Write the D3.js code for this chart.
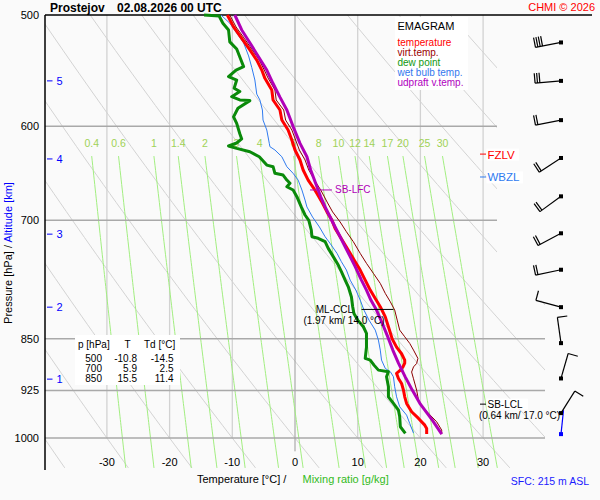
<!DOCTYPE html>
<html lang="en">
<head>
    <meta charset="UTF-8">
    <title>Emagram Prostejov</title>
    <style>
        body { margin: 0; background: #fafafa; }
        svg { display: block; font-family: "Liberation Sans", Arial, sans-serif; }
    </style>
    <script src="https://d3js.org/d3.v7.min.js"></script>
</head>
<body>
    <div id="svg"></div>
    <script>
        const pressureTicks = [500, 600, 700, 850, 925, 1000]
        const tempTicks = [-30, -20, -10, 0, 10, 20, 30]
        const mixingRatios = [0.4, 0.6, 1, 1.4, 2, 3, 4, 6, 8, 10, 12, 14, 17, 20, 25, 30]
        const altitudeKm = [1, 2, 3, 4, 5]
        const altitudePressure = [908, 807, 716, 633, 557]

        // [pressure hPa, temperature °C]
        const temperature = [[500,-10.8],[509.8,-9.8],[519.6,-8.5],[529.5,-7.2],[538.3,-6.1],[547.2,-5.3],[554.7,-4.8],[565.4,-3.7],[574.7,-3.5],[584.2,-2.4],[593.9,-2.1],[603.7,-1.1],[613.7,-0.5],[623.8,0.0],[634.1,0.8],[644.6,1.3],[655.3,2.1],[664.2,3.0],[673.4,3.8],[680.7,4.4],[690.4,5.1],[700,5.9],[709.3,6.4],[719,7.2],[728.9,8.0],[738.9,8.8],[749.1,9.6],[759.4,10.4],[772,11.2],[784.7,12.0],[795.5,12.8],[806.5,13.6],[819.9,14.4],[833.3,14.9],[850,15.5],[861.6,16.2],[871,17.0],[880.1,17.5],[884.5,17.5],[890.3,17.2],[894.7,16.8],[899.5,16.2],[907,16.5],[914.5,17.0],[924.5,17.3],[934.7,17.5],[944.9,17.8],[957.9,18.6],[968.4,19.7],[979.1,20.7],[984.4,21.0],[993.6,21.0]]
        const virtualTemp = [[500,-10.4],[509.9,-9.4],[519.4,-8.1],[529.5,-6.8],[538.3,-5.7],[547.2,-4.9],[554.4,-4.3],[565.4,-3.2],[574.7,-3.0],[584.2,-1.8],[593.9,-1.5],[603.7,-0.5],[613.7,0.1],[623.8,0.7],[634.1,1.6],[644.6,2.2],[655.3,3.1],[666,4.1],[680.3,5.2],[690.4,6.0],[701.9,7.2],[713.2,8.2],[724.9,9.3],[738.9,10.4],[751.1,11.4],[763.5,12.5],[776.2,13.6],[789,14.4],[799.9,15.2],[810.9,15.9],[824.3,16.3],[837.9,16.7],[847.1,17.5],[856.4,18.3],[865.8,18.9],[877.7,19.6],[885,19.4],[890,18.9],[897.5,18.6],[907.5,18.9],[924.5,19.4],[939.8,19.7],[950.1,20.3],[960.5,21.3],[973.8,22.6],[987.1,23.4],[993.6,23.4]]
        const dewPoint = [[500,-14.5],[500.8,-12.1],[506.8,-11.5],[512.4,-10.6],[522.5,-10.4],[528.7,-9.3],[535.6,-8.8],[544.1,-8.2],[547.2,-9.4],[553.1,-10.6],[556.2,-9.3],[563.7,-9.7],[566.8,-8.8],[571.6,-10.1],[574.7,-8.8],[575.3,-7.2],[582.6,-9.1],[590.8,-9.8],[597.2,-9.3],[607.4,-8.8],[612.6,-8.5],[616.7,-9.3],[619.7,-10.6],[622.1,-9.3],[625.6,-7.2],[630.7,-5.7],[639.4,-4.5],[641.1,-3.5],[648.1,-3.2],[649.9,-1.9],[655.3,-1.3],[658.8,-0.8],[662.5,-1.3],[666,-0.3],[673.4,0.3],[684.8,1.0],[693.9,1.6],[700,2.2],[711.2,2.6],[719,2.7],[720.9,3.7],[724.9,4.8],[732.9,5.3],[742.9,6.1],[753.2,6.9],[761.4,7.4],[772,8.0],[780.5,8.5],[793.6,9.0],[806.5,9.2],[815.3,9.4],[824.3,10.0],[833.3,10.9],[842.3,11.4],[861.6,11.4],[877.7,11.2],[880.1,12.0],[887.4,12.6],[894.7,13.3],[897,14.9],[904.5,14.6],[919.5,14.9],[934.7,14.9],[944.9,15.7],[955.3,16.5],[965.8,16.7],[981.7,16.8],[992.4,17.6]]
        const wetBulb = [[500,-11.8],[506.8,-10.4],[515,-9.3],[523.3,-8.2],[534.7,-7.4],[544.8,-6.9],[556.2,-6.4],[569.2,-6.1],[574.7,-5.6],[584.2,-5.2],[593.9,-5.1],[603.7,-4.5],[617,-4.1],[620.4,-4.0],[623.8,-3.2],[630.7,-2.1],[641.1,-1.3],[648.1,-0.3],[655.3,0.5],[666,1.1],[677.1,1.6],[684.8,1.9],[696.2,2.8],[707.7,3.9],[719,4.8],[727,5.6],[738.9,6.7],[749.1,7.4],[759.4,8.2],[772,8.8],[784.7,9.7],[797.7,10.4],[810.9,11.0],[824.3,11.8],[837.9,12.8],[851.7,13.3],[865.8,13.6],[880.1,13.8],[892.2,14.4],[897,15.2],[904.5,15.7],[919.5,15.9],[934.7,16.2],[950.1,16.7],[963.2,17.8],[976.4,18.3],[992,18.9]]
        const updraftVirtTemp = [[500,-9.6],[512.4,-8.5],[523.3,-7.2],[534.7,-5.9],[547.2,-4.5],[559.4,-3.5],[572,-2.4],[584.2,-1.3],[600.3,-0.3],[617,0.8],[630.7,1.9],[644.6,2.5],[662.5,3.5],[673.5,4.1],[684.8,4.8],[696.2,5.6],[707.7,6.4],[719,7.2],[730.9,8.0],[742.9,8.8],[755.2,9.6],[772,10.6],[784.7,11.4],[797.7,12.1],[810.9,13.0],[828.2,13.9],[847.3,14.8],[865.8,15.6],[884.5,16.5],[905,17.6],[924.5,18.7],[946.1,20.0],[971.1,21.9],[993.6,23.4]]

        const windPressure = [960, 907, 856, 807, 759, 715, 673, 632, 594, 557, 523]
        const windDir = [32, 16, 352, 285, 258, 242, 234, 237, 259, 265, 259]
        const windSpeed = [10, 10, 10, 10, 20, 20, 20, 20, 20, 30, 40]
        const sfcPressure = 993.6
        const sfcWindDir = 6

        const tableLevels = [500, 700, 850]
        const tableT = [-10.8, 5.9, 15.5]
        const tableTd = [-14.5, 2.5, 11.4]

        // ---- layout ----
        const boxWidth = 600, boxHeight = 500
        const svg = d3.select('#svg').append('svg').attr('width', boxWidth).attr('height', boxHeight)

        const xScale = d3.scaleLinear().domain([-40, 40]).range([44.2, 545.8])
        const yScale = d3.scaleLog().domain([500, 1000]).range([15, 438.03])
        const left = 45, rightUpper = 497, rightLower = 545, bottom = 468

        const defs = svg.append('defs')
        const clip = defs.append('clipPath').attr('id', 'plot')
        clip.append('rect').attr('x', left).attr('y', 15).attr('width', rightUpper - left).attr('height', bottom - 15)
        clip.append('rect').attr('x', rightUpper - 1).attr('y', 300).attr('width', rightLower - rightUpper + 1).attr('height', bottom - 300)

        const plot = svg.append('g').attr('clip-path', 'url(#plot)')

        // dry adiabats
        const adiabatP = d3.range(500, 1061, 10)
        const thetas = d3.range(203.15, 453.2, 10)
        const line = d3.line().x(d => xScale(d[1])).y(d => yScale(d[0]))
        plot.selectAll('.dry').data(thetas).enter().append('path')
            .attr('class', 'dry')
            .attr('d', th => line(adiabatP.map(p => [p, th * Math.pow(p / 1000, 0.2857) - 273.15])))
            .attr('fill', 'none').attr('stroke', '#d3d3d3').attr('stroke-width', 1)

        // isotherms
        plot.selectAll('.iso').data(tempTicks).enter().append('line')
            .attr('x1', d => xScale(d)).attr('x2', d => xScale(d))
            .attr('y1', yScale(500)).attr('y2', d => d === 0 ? yScale(1022) : yScale(1000))
            .attr('stroke', d => d === 0 ? '#9a9a9a' : '#d2d2d2')
            .attr('stroke-width', d => d === 0 ? 1 : 1.3)

        // mixing ratio lines
        const dewFromW = (w, p) => {
            const e = w * p / (622 + w)
            const l = Math.log(e / 6.112)
            return 243.5 * l / (17.67 - l)
        }
        const mixP = d3.range(630, 1056, 5)
        plot.selectAll('.mix').data(mixingRatios).enter().append('path')
            .attr('d', w => line(mixP.map(p => [p, dewFromW(w, p)])))
            .attr('fill', 'none').attr('stroke', '#a2ee80').attr('stroke-width', 1)
        svg.selectAll('.mixLabel').data(mixingRatios).enter().append('text')
            .attr('x', w => xScale(dewFromW(w, 630)))
            .attr('y', 147)
            .attr('text-anchor', 'middle')
            .attr('font-size', 10.5)
            .attr('fill', '#9fd256')
            .text(d => d)

        // isobars
        svg.selectAll('.isobar').data(pressureTicks.filter(p => p > 500)).enter().append('line')
            .attr('x1', left).attr('x2', p => p >= 850 ? rightLower : rightUpper)
            .attr('y1', p => yScale(p)).attr('y2', p => yScale(p))
            .attr('stroke', '#a9a9a9').attr('stroke-width', 1.5)

        // frame
        svg.append('line').attr('x1', left).attr('x2', 592).attr('y1', yScale(500)).attr('y2', yScale(500)).attr('stroke', '#000').attr('stroke-width', 1.5)
        svg.append('line').attr('x1', left).attr('x2', left).attr('y1', yScale(500)).attr('y2', 470).attr('stroke', '#000').attr('stroke-width', 1.5)

        // pressure labels
        svg.selectAll('.pLabel').data(pressureTicks).enter().append('text')
            .attr('x', 39).attr('y', p => yScale(p) + 4)
            .attr('text-anchor', 'end').attr('font-size', 11).attr('fill', '#000')
            .text(d => d)

        // altitude ticks
        const alt = svg.append('g')
        alt.selectAll('line').data(altitudePressure).enter().append('line')
            .attr('x1', 47).attr('x2', 52.5).attr('y1', p => yScale(p)).attr('y2', p => yScale(p))
            .attr('stroke', '#0000ff').attr('stroke-width', 1)
        alt.selectAll('text').data(altitudePressure).enter().append('text')
            .attr('x', 56.5).attr('y', p => yScale(p) + 4)
            .attr('font-size', 11).attr('fill', '#0000ff')
            .text((p, i) => altitudeKm[i])

        // temperature labels
        svg.selectAll('.tLabel').data(tempTicks).enter().append('text')
            .attr('x', d => xScale(d)).attr('y', 466)
            .attr('text-anchor', 'middle').attr('font-size', 11).attr('fill', '#000')
            .text(d => d)

        // axis titles
        const yTitle = svg.append('text').attr('transform', 'translate(12,253) rotate(-90)')
            .attr('text-anchor', 'middle').attr('font-size', 11)
        yTitle.append('tspan').attr('fill', '#000').text('Pressure [hPa]  /  ')
        yTitle.append('tspan').attr('fill', '#0000ff').text('Altitude [km]')

        svg.append('text').attr('x', 197).attr('y', 483).attr('font-size', 11).attr('fill', '#000')
            .text('Temperature [°C]  /')
        svg.append('text').attr('x', 302.5).attr('y', 483).attr('font-size', 11).attr('fill', '#33bb22')
            .text('Mixing ratio [g/kg]')
        svg.append('text').attr('x', 589).attr('y', 485).attr('text-anchor', 'end').attr('font-size', 10.5).attr('fill', '#1a1aff')
            .text('SFC: 215 m ASL')

        // title
        svg.append('text').attr('x', 50).attr('y', 11.5).attr('font-size', 12).attr('font-weight', 'bold').text('Prostejov')
        svg.append('text').attr('x', 117).attr('y', 11.5).attr('font-size', 12).attr('font-weight', 'bold').text('02.08.2026 00 UTC')
        svg.append('text').attr('x', 595).attr('y', 11).attr('text-anchor', 'end').attr('font-size', 11).attr('fill', '#ff0000').text('CHMI © 2026')

        // legend
        const legend = svg.append('g')
        legend.append('rect').attr('x', 395).attr('y', 17).attr('width', 73).attr('height', 73).attr('fill', '#fff')
        legend.append('text').attr('x', 397.5).attr('y', 30).attr('font-size', 11).text('EMAGRAM')
        const legendItems = [['temperature', '#ff0000'], ['virt.temp.', '#990000'], ['dew point', '#119911'], ['wet bulb temp.', '#3377ee'], ['udpraft v.temp.', '#b000c0']]
        legend.selectAll('.li').data(legendItems).enter().append('text')
            .attr('x', 397.5).attr('y', (d, i) => 45.5 + i * 10)
            .attr('font-size', 10).attr('fill', d => d[1])
            .text(d => d[0])

        // table
        const table = svg.append('g')
        table.append('rect').attr('x', 75).attr('y', 335).attr('width', 105).attr('height', 50).attr('fill', '#fff')
        table.append('text').attr('x', 78).attr('y', 347.5).attr('font-size', 10).text('p [hPa]')
        table.append('text').attr('x', 127.5).attr('y', 347.5).attr('font-size', 10).attr('text-anchor', 'middle').text('T')
        table.append('text').attr('x', 144).attr('y', 347.5).attr('font-size', 10).text('Td [°C]')
        tableLevels.forEach((p, i) => {
            const ty = 361.5 + i * 10
            table.append('text').attr('x', 102).attr('y', ty).attr('font-size', 10).attr('text-anchor', 'end').text(p)
            table.append('text').attr('x', 137).attr('y', ty).attr('font-size', 10).attr('text-anchor', 'end').text(tableT[i].toFixed(1))
            table.append('text').attr('x', 173.5).attr('y', ty).attr('font-size', 10).attr('text-anchor', 'end').text(tableTd[i].toFixed(1))
        })

        // profiles
        const curves = svg.append('g')
        const drawCurve = (data, color, width) => curves.append('path').datum(data)
            .attr('d', line).attr('fill', 'none').attr('stroke', color).attr('stroke-width', width)
            .attr('stroke-linejoin', 'round')
        drawCurve(wetBulb, '#2f7bf0', 1)
        drawCurve(dewPoint, '#0a8a0a', 3)
        drawCurve(temperature, '#ff0000', 3)
        drawCurve(virtualTemp, '#8b0000', 1)
        drawCurve(updraftVirtTemp, '#b000b8', 3)

        // level annotations
        const ann = svg.append('g').attr('font-size', 10)
        const labelBox = (t, pad) => {
            const b = t.node().getBBox()
            ann.insert('rect', () => t.node()).attr('x', b.x - 1).attr('y', b.y).attr('width', b.width + pad).attr('height', b.height).attr('fill', '#fff')
        }
        const fz = 628, wbz = 652, lfc = 666, ccl = 810, lcl = 946
        ann.append('line').attr('x1', 480).attr('x2', 486).attr('y1', yScale(fz)).attr('y2', yScale(fz)).attr('stroke', '#ff0000')
        labelBox(ann.append('text').attr('x', 487.5).attr('y', yScale(fz) + 4.5).attr('font-size', 11.5).attr('fill', '#ff0000').text('FZLV'), 5)
        ann.append('line').attr('x1', 480).attr('x2', 486).attr('y1', yScale(wbz)).attr('y2', yScale(wbz)).attr('stroke', '#2f7bf0')
        labelBox(ann.append('text').attr('x', 487.5).attr('y', yScale(wbz) + 4.5).attr('font-size', 11.5).attr('fill', '#2f7bf0').text('WBZL'), 4)

        ann.append('line').attr('x1', xScale(2.4)).attr('x2', xScale(5.9)).attr('y1', yScale(lfc)).attr('y2', yScale(lfc)).attr('stroke', '#b000b8')
        ann.append('text').attr('x', 335).attr('y', yScale(lfc) + 3.5).attr('fill', '#b000b8').text('SB-LFC')

        ann.append('line').attr('x1', xScale(10.6)).attr('x2', xScale(15.7)).attr('y1', yScale(ccl)).attr('y2', yScale(ccl)).attr('stroke', '#000')
        ann.append('text').attr('x', 353).attr('y', yScale(ccl) + 3.5).attr('text-anchor', 'end').text('ML-CCL')
        ann.append('text').attr('x', 344).attr('y', yScale(ccl) + 14.5).attr('text-anchor', 'middle').text('(1.97 km/ 14.0 °C)')

        ann.append('line').attr('x1', 480).attr('x2', 486).attr('y1', yScale(lcl)).attr('y2', yScale(lcl)).attr('stroke', '#000')
        labelBox(ann.append('text').attr('x', 487.5).attr('y', yScale(lcl) + 3.5).text('SB-LCL'), 6)
        ann.append('text').attr('x', 519.5).attr('y', yScale(lcl) + 14.5).attr('text-anchor', 'middle').text('(0.64 km/ 17.0 °C)')

        // wind barbs
        const barbs = svg.append('g')
        const stationX = 561
        const drawBarb = (cy, dir, spd, color) => {
            const r = dir * Math.PI / 180, sx = Math.sin(r), sy = -Math.cos(r)
            const len = spd > 0 ? 26 : 24
            const ex = stationX + len * sx, ey = cy + len * sy
            barbs.append('line').attr('x1', stationX).attr('y1', cy).attr('x2', ex).attr('y2', ey).attr('stroke', color).attr('stroke-width', 1.2)
            for (let i = 0; i < Math.floor(spd / 10); i++) {
                const bx = ex - i * 2.4 * sx, by = ey - i * 2.4 * sy
                barbs.append('line').attr('x1', bx).attr('y1', by)
                    .attr('x2', bx - 10 * sy).attr('y2', by + 10 * sx)
                    .attr('stroke', color).attr('stroke-width', 1.2)
            }
            barbs.append('rect').attr('x', stationX - 2).attr('y', cy - 2).attr('width', 4).attr('height', 4).attr('fill', color)
        }
        drawBarb(yScale(sfcPressure), sfcWindDir, 0, '#0000ff')
        windPressure.forEach((p, i) => drawBarb(yScale(p), windDir[i], windSpeed[i], '#000'))
    </script>
</body>
</html>
